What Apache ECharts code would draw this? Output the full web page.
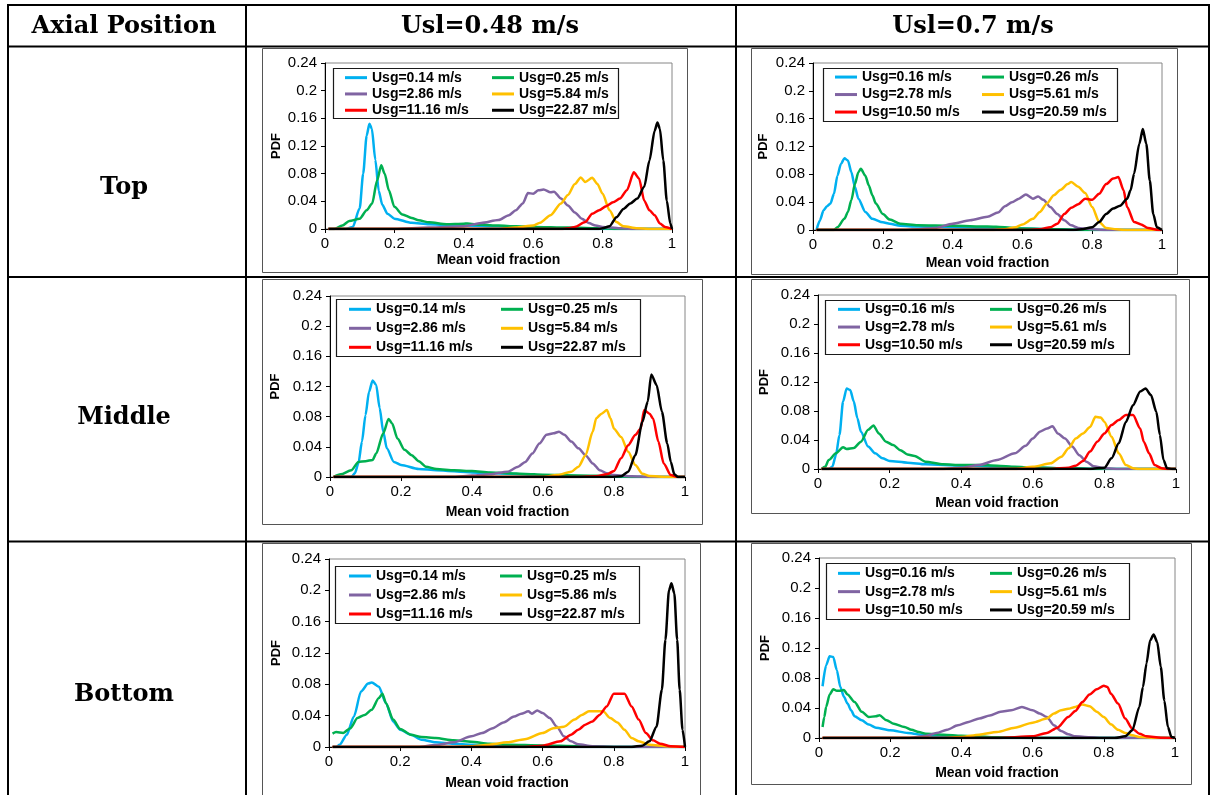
<!DOCTYPE html>
<html>
<head>
<meta charset="utf-8">
<script src="https://cdn.jsdelivr.net/npm/echarts@6/dist/echarts.min.js"></script>
<style>
  body { margin: 0; background: #fff; }
  #main { width: 1210px; height: 795px; }
</style>
</head>
<body>
<div id="main"></div>
<script>
// legend names
const namesLow = ["Usg=0.14 m/s", "Usg=0.25 m/s", "Usg=2.86 m/s", "Usg=5.84 m/s", "Usg=11.16 m/s", "Usg=22.87 m/s"];
const namesLowBottom = ["Usg=0.14 m/s", "Usg=0.25 m/s", "Usg=2.86 m/s", "Usg=5.86 m/s", "Usg=11.16 m/s", "Usg=22.87 m/s"];
const namesHigh = ["Usg=0.16 m/s", "Usg=0.26 m/s", "Usg=2.78 m/s", "Usg=5.61 m/s", "Usg=10.50 m/s", "Usg=20.59 m/s"];
const colors = ["#00b0f0", "#00b050", "#8064a2", "#ffc000", "#ff0000", "#000000"];

// Top, Usl=0.48
const tl014 = [[0.01,0],[0.06,0],[0.08,0.003],[0.1,0.03],[0.11,0.08],[0.12,0.135],[0.128,0.152],[0.135,0.145],[0.145,0.1],[0.155,0.055],[0.165,0.035],[0.18,0.022],[0.2,0.015],[0.25,0.009],[0.3,0.007],[0.4,0.005],[0.5,0.004],[0.6,0.002],[0.7,0.001],[0.8,0],[1,0]];
const tl025 = [[0.01,0],[0.026,0],[0.05,0.005],[0.07,0.0115],[0.1,0.015],[0.12,0.027],[0.136,0.037],[0.15,0.07],[0.162,0.092],[0.172,0.08],[0.184,0.056],[0.2,0.032],[0.223,0.021],[0.25,0.016],[0.27,0.0125],[0.3,0.0096],[0.35,0.007],[0.4,0.0077],[0.41,0.008],[0.45,0.006],[0.5,0.005],[0.55,0.004],[0.6,0.003],[0.7,0.002],[0.8,0.001],[0.85,0],[1,0]];
const tl286 = [[0.01,0],[0.2,0],[0.3,0.002],[0.4,0.004],[0.45,0.0087],[0.5,0.013],[0.53,0.02],[0.55,0.027],[0.57,0.037],[0.585,0.052],[0.6,0.051],[0.615,0.056],[0.63,0.057],[0.65,0.053],[0.66,0.054],[0.68,0.044],[0.7,0.034],[0.72,0.024],[0.74,0.015],[0.76,0.0087],[0.78,0.005],[0.8,0.003],[0.85,0.001],[0.9,0],[1,0]];
const tl584 = [[0.01,0],[0.5,0],[0.55,0.002],[0.6,0.005],[0.62,0.009],[0.65,0.02],[0.68,0.037],[0.7,0.049],[0.72,0.065],[0.737,0.0745],[0.75,0.068],[0.77,0.074],[0.785,0.065],[0.8,0.051],[0.82,0.027],[0.84,0.01],[0.86,0.004],[0.9,0.001],[0.95,0],[1,0]];
const tl1116 = [[0.01,0],[0.68,0],[0.7,0.001],[0.72,0.003],[0.75,0.01],[0.77,0.022],[0.79,0.027],[0.81,0.033],[0.83,0.0385],[0.85,0.044],[0.87,0.056],[0.89,0.082],[0.905,0.073],[0.92,0.041],[0.935,0.027],[0.95,0.02],[0.965,0.008],[0.98,0.003],[1,0]];
const tl2287 = [[0.01,0],[0.79,0],[0.8,0.001],[0.82,0.004],[0.84,0.017],[0.86,0.029],[0.88,0.037],[0.9,0.044],[0.92,0.061],[0.935,0.099],[0.95,0.142],[0.958,0.154],[0.965,0.145],[0.975,0.099],[0.985,0.041],[0.995,0.008],[1,0]];

// Top, Usl=0.7
const tr016 = [[0.01,0],[0.02,0.014],[0.03,0.028],[0.04,0.034],[0.05,0.038],[0.06,0.052],[0.07,0.078],[0.08,0.095],[0.09,0.103],[0.1,0.1],[0.11,0.083],[0.12,0.062],[0.13,0.045],[0.15,0.026],[0.17,0.016],[0.2,0.011],[0.22,0.009],[0.25,0.006],[0.3,0.005],[0.4,0.004],[0.5,0.003],[0.6,0.002],[0.7,0.001],[0.75,0],[1,0]];
const tr026 = [[0.01,0],[0.06,0],[0.07,0.004],[0.09,0.016],[0.1,0.026],[0.11,0.043],[0.12,0.066],[0.13,0.083],[0.137,0.088],[0.15,0.078],[0.16,0.064],[0.17,0.05],[0.18,0.038],[0.2,0.023],[0.22,0.015],[0.25,0.009],[0.3,0.0067],[0.4,0.006],[0.5,0.005],[0.55,0.004],[0.6,0.002],[0.7,0.001],[0.8,0],[1,0]];
const tr278 = [[0.01,0],[0.25,0],[0.3,0.001],[0.35,0.003],[0.4,0.009],[0.45,0.014],[0.5,0.019],[0.53,0.025],[0.55,0.034],[0.57,0.04],[0.59,0.045],[0.61,0.051],[0.63,0.045],[0.645,0.048],[0.66,0.0435],[0.68,0.033],[0.7,0.023],[0.72,0.014],[0.74,0.0067],[0.76,0.003],[0.8,0.001],[0.85,0],[1,0]];
const tr561 = [[0.01,0],[0.5,0],[0.55,0.001],[0.58,0.004],[0.6,0.008],[0.63,0.016],[0.65,0.026],[0.67,0.038],[0.69,0.05],[0.71,0.058],[0.73,0.066],[0.74,0.069],[0.76,0.062],[0.78,0.053],[0.8,0.033],[0.82,0.0115],[0.84,0.003],[0.87,0.001],[0.9,0],[1,0]];
const tr1050 = [[0.01,0],[0.6,0],[0.65,0.001],[0.68,0.004],[0.7,0.009],[0.72,0.023],[0.74,0.032],[0.76,0.037],[0.78,0.045],[0.8,0.0435],[0.82,0.052],[0.84,0.066],[0.86,0.074],[0.875,0.076],[0.89,0.057],[0.9,0.033],[0.92,0.0115],[0.94,0.008],[0.96,0.003],[0.99,0],[1,0]];
const tr2059 = [[0.01,0],[0.74,0],[0.77,0.001],[0.8,0.004],[0.82,0.0115],[0.84,0.023],[0.86,0.031],[0.88,0.035],[0.9,0.045],[0.91,0.057],[0.92,0.081],[0.935,0.124],[0.945,0.145],[0.955,0.124],[0.965,0.071],[0.975,0.023],[0.985,0.004],[1,0]];

// Middle, Usl=0.48
const ml014 = [[0.01,0],[0.06,0],[0.07,0.005],[0.08,0.018],[0.09,0.047],[0.1,0.082],[0.11,0.113],[0.12,0.128],[0.13,0.122],[0.14,0.091],[0.15,0.06],[0.16,0.038],[0.18,0.02],[0.2,0.016],[0.25,0.0106],[0.3,0.009],[0.4,0.006],[0.5,0.0044],[0.6,0.002],[0.7,0.001],[0.8,0],[1,0]];
const ml025 = [[0.01,0],[0.03,0.0035],[0.06,0.009],[0.08,0.02],[0.1,0.021],[0.12,0.0225],[0.13,0.031],[0.15,0.058],[0.165,0.077],[0.175,0.071],[0.19,0.051],[0.21,0.036],[0.23,0.029],[0.25,0.021],[0.27,0.0137],[0.3,0.0106],[0.35,0.0088],[0.4,0.008],[0.45,0.006],[0.5,0.005],[0.55,0.004],[0.6,0.003],[0.7,0.002],[0.8,0.001],[0.85,0],[1,0]];
const ml286 = [[0.01,0],[0.35,0],[0.4,0.002],[0.45,0.0035],[0.5,0.007],[0.53,0.0137],[0.55,0.02],[0.57,0.031],[0.59,0.0445],[0.61,0.056],[0.63,0.058],[0.645,0.06],[0.66,0.056],[0.68,0.047],[0.7,0.038],[0.72,0.029],[0.74,0.018],[0.76,0.009],[0.78,0.005],[0.8,0.0026],[0.85,0.001],[0.9,0],[1,0]];
const ml584 = [[0.01,0],[0.6,0],[0.64,0.0026],[0.68,0.007],[0.7,0.0137],[0.72,0.029],[0.74,0.06],[0.75,0.078],[0.765,0.084],[0.78,0.0887],[0.79,0.078],[0.8,0.064],[0.82,0.053],[0.84,0.0335],[0.86,0.016],[0.88,0.0044],[0.9,0.0013],[0.95,0],[1,0]];
const ml1116 = [[0.01,0],[0.7,0],[0.75,0.001],[0.78,0.0035],[0.8,0.008],[0.82,0.025],[0.84,0.042],[0.86,0.0556],[0.875,0.064],[0.885,0.0887],[0.9,0.084],[0.91,0.0776],[0.925,0.047],[0.94,0.018],[0.96,0.0026],[0.98,0],[1,0]];
const ml2287 = [[0.01,0],[0.79,0],[0.82,0.001],[0.84,0.007],[0.86,0.029],[0.88,0.073],[0.895,0.1],[0.905,0.136],[0.92,0.122],[0.935,0.0865],[0.95,0.0445],[0.96,0.02],[0.97,0.0035],[0.98,0],[1,0]];

// Middle, Usl=0.7
const mr016 = [[0.01,0],[0.03,0],[0.04,0.003],[0.05,0.019],[0.06,0.047],[0.07,0.093],[0.08,0.111],[0.09,0.109],[0.1,0.093],[0.11,0.07],[0.12,0.0515],[0.14,0.031],[0.16,0.0216],[0.18,0.0147],[0.2,0.011],[0.25,0.0087],[0.3,0.0064],[0.4,0.0046],[0.5,0.003],[0.6,0.002],[0.7,0.001],[0.8,0],[1,0]];
const mr026 = [[0.01,0],[0.02,0.003],[0.03,0.0124],[0.05,0.0216],[0.07,0.03],[0.08,0.0276],[0.1,0.029],[0.12,0.0377],[0.14,0.054],[0.155,0.06],[0.17,0.049],[0.19,0.0377],[0.21,0.033],[0.23,0.026],[0.25,0.02],[0.27,0.018],[0.3,0.01],[0.35,0.0064],[0.4,0.0055],[0.45,0.0055],[0.5,0.0046],[0.55,0.003],[0.6,0.002],[0.7,0.001],[0.8,0],[1,0]];
const mr278 = [[0.01,0],[0.35,0],[0.4,0.0018],[0.45,0.0055],[0.5,0.0124],[0.55,0.0216],[0.58,0.032],[0.6,0.042],[0.62,0.0515],[0.64,0.056],[0.655,0.059],[0.67,0.049],[0.69,0.042],[0.71,0.031],[0.73,0.019],[0.75,0.01],[0.77,0.0037],[0.8,0.001],[0.85,0],[1,0]];
const mr561 = [[0.01,0],[0.55,0],[0.6,0.003],[0.65,0.0078],[0.68,0.017],[0.7,0.0285],[0.72,0.042],[0.74,0.049],[0.76,0.058],[0.775,0.072],[0.79,0.071],[0.8,0.065],[0.82,0.0446],[0.84,0.0216],[0.86,0.0055],[0.88,0.001],[0.9,0],[1,0]];
const mr1050 = [[0.01,0],[0.65,0],[0.7,0.0018],[0.72,0.0046],[0.74,0.011],[0.76,0.024],[0.78,0.0377],[0.8,0.049],[0.82,0.0607],[0.84,0.0676],[0.86,0.0745],[0.88,0.0745],[0.9,0.056],[0.91,0.0377],[0.925,0.0216],[0.94,0.0055],[0.96,0.001],[0.98,0],[1,0]];
const mr2059 = [[0.01,0],[0.76,0],[0.8,0.0018],[0.82,0.0147],[0.84,0.0354],[0.86,0.065],[0.88,0.088],[0.9,0.107],[0.915,0.111],[0.93,0.102],[0.945,0.079],[0.955,0.047],[0.965,0.0124],[0.975,0.001],[0.99,0],[1,0]];

// Bottom, Usl=0.48
const bl014 = [[0.01,0],[0.02,0],[0.03,0.003],[0.05,0.0157],[0.07,0.039],[0.09,0.071],[0.11,0.081],[0.12,0.0824],[0.14,0.077],[0.16,0.056],[0.18,0.0327],[0.2,0.022],[0.23,0.0157],[0.26,0.0093],[0.3,0.006],[0.35,0.0042],[0.4,0.003],[0.5,0.002],[0.6,0.001],[0.7,0],[1,0]];
const bl025 = [[0.01,0.017],[0.02,0.019],[0.04,0.018],[0.06,0.024],[0.08,0.037],[0.1,0.041],[0.12,0.0476],[0.14,0.0625],[0.15,0.068],[0.16,0.056],[0.18,0.035],[0.2,0.023],[0.23,0.0157],[0.26,0.0127],[0.3,0.0115],[0.35,0.0085],[0.4,0.0068],[0.45,0.0042],[0.5,0.003],[0.6,0.002],[0.7,0.001],[0.8,0],[1,0]];
const bl286 = [[0.01,0],[0.25,0],[0.3,0.0025],[0.35,0.006],[0.4,0.0136],[0.43,0.0178],[0.46,0.024],[0.49,0.0314],[0.52,0.039],[0.54,0.0425],[0.56,0.0455],[0.57,0.0425],[0.585,0.0467],[0.6,0.0433],[0.62,0.037],[0.64,0.026],[0.66,0.0136],[0.68,0.0072],[0.7,0.0034],[0.74,0.001],[0.8,0],[1,0]];
const bl586 = [[0.01,0],[0.35,0],[0.4,0.001],[0.45,0.003],[0.5,0.006],[0.55,0.01],[0.6,0.0178],[0.63,0.024],[0.66,0.026],[0.69,0.035],[0.71,0.041],[0.73,0.0455],[0.75,0.0455],[0.77,0.0455],[0.79,0.037],[0.81,0.0314],[0.83,0.022],[0.85,0.0115],[0.87,0.0072],[0.9,0.003],[0.95,0.001],[1,0]];
const bl1116 = [[0.01,0],[0.55,0],[0.6,0.0017],[0.65,0.0072],[0.68,0.0157],[0.7,0.022],[0.72,0.0285],[0.74,0.0327],[0.76,0.041],[0.78,0.0518],[0.8,0.068],[0.815,0.068],[0.83,0.068],[0.85,0.0518],[0.87,0.035],[0.89,0.0178],[0.91,0.0085],[0.93,0.0042],[0.96,0.001],[1,0]];
const bl2287 = [[0.01,0],[0.85,0],[0.88,0.0017],[0.9,0.0072],[0.92,0.026],[0.935,0.073],[0.945,0.137],[0.955,0.2],[0.962,0.209],[0.97,0.196],[0.978,0.137],[0.985,0.073],[0.993,0.022],[1,0]];

// Bottom, Usl=0.7
const br016 = [[0.01,0.069],[0.02,0.097],[0.03,0.109],[0.04,0.108],[0.05,0.0905],[0.06,0.068],[0.07,0.055],[0.08,0.046],[0.09,0.037],[0.1,0.029],[0.12,0.0236],[0.14,0.018],[0.16,0.0138],[0.2,0.0103],[0.25,0.0067],[0.3,0.0036],[0.35,0.002],[0.4,0.001],[0.5,0],[1,0]];
const br026 = [[0.01,0.0147],[0.015,0.028],[0.02,0.0415],[0.03,0.058],[0.04,0.065],[0.05,0.063],[0.06,0.063],[0.07,0.064],[0.08,0.058],[0.1,0.048],[0.12,0.035],[0.14,0.028],[0.16,0.029],[0.17,0.0303],[0.19,0.0236],[0.21,0.019],[0.24,0.0147],[0.26,0.011],[0.28,0.008],[0.3,0.0058],[0.35,0.0045],[0.4,0.003],[0.45,0.002],[0.5,0.001],[0.6,0],[1,0]];
const br278 = [[0.01,0],[0.25,0],[0.3,0.0027],[0.33,0.0067],[0.36,0.011],[0.39,0.017],[0.42,0.0214],[0.45,0.026],[0.48,0.03],[0.51,0.035],[0.54,0.037],[0.57,0.0415],[0.6,0.037],[0.62,0.0326],[0.64,0.028],[0.66,0.017],[0.68,0.0094],[0.7,0.0049],[0.72,0.0022],[0.76,0.001],[0.8,0],[1,0]];
const br561 = [[0.01,0],[0.35,0],[0.4,0.0013],[0.45,0.0045],[0.5,0.008],[0.55,0.0138],[0.6,0.0205],[0.64,0.026],[0.66,0.0326],[0.68,0.037],[0.7,0.039],[0.72,0.0415],[0.74,0.0446],[0.76,0.0424],[0.78,0.035],[0.8,0.028],[0.82,0.0183],[0.84,0.011],[0.86,0.0067],[0.88,0.0036],[0.9,0.0013],[0.95,0],[1,0]];
const br1050 = [[0.01,0],[0.5,0],[0.6,0.0022],[0.64,0.0067],[0.67,0.0138],[0.7,0.028],[0.72,0.036],[0.74,0.048],[0.76,0.058],[0.78,0.065],[0.8,0.0696],[0.81,0.068],[0.82,0.059],[0.84,0.046],[0.86,0.026],[0.88,0.0125],[0.9,0.0058],[0.92,0.0022],[0.96,0.0005],[1,0]];
const br2059 = [[0.01,0],[0.83,0],[0.86,0.0022],[0.88,0.0103],[0.9,0.0415],[0.91,0.068],[0.92,0.0995],[0.93,0.13],[0.94,0.138],[0.95,0.128],[0.96,0.095],[0.97,0.05],[0.98,0.0147],[0.99,0.0013],[1,0]];

// panel layout (pixels)
const panels = [
  { grid: [325, 63, 347, 166], box: [262, 48, 425, 224], legBox: [333, 68, 285, 50], legL: 345, legR: 492, legTop: 69.5, rowH: 16.3, xGap: 24, yGap: 42, names: namesLow, data: [tl014, tl025, tl286, tl584, tl1116, tl2287] },
  { grid: [813, 63, 349, 167], box: [751, 48, 426, 226], legBox: [823, 68, 294, 53], legL: 835, legR: 982, legTop: 68.3, rowH: 17.5, xGap: 26, yGap: 43, names: namesHigh, data: [tr016, tr026, tr278, tr561, tr1050, tr2059] },
  { grid: [330, 296, 355, 181], box: [262, 279, 440, 245], legBox: [336, 299, 304, 57], legL: 349, legR: 501, legTop: 299.8, rowH: 19, xGap: 28, yGap: 48, names: namesLow, data: [ml014, ml025, ml286, ml584, ml1116, ml2287] },
  { grid: [818, 295, 358, 174], box: [751, 279, 438, 234], legBox: [825, 300, 304, 54], legL: 838, legR: 990, legTop: 300.5, rowH: 17.7, xGap: 27, yGap: 47, names: namesHigh, data: [mr016, mr026, mr278, mr561, mr1050, mr2059] },
  { grid: [329, 559, 356, 188], box: [262, 543, 438, 260], legBox: [335, 566, 304, 57], legL: 349, legR: 500, legTop: 566.5, rowH: 19, xGap: 29, yGap: 46, names: namesLowBottom, data: [bl014, bl025, bl286, bl586, bl1116, bl2287] },
  { grid: [819, 558, 356, 180], box: [751, 543, 440, 241], legBox: [826, 563, 303, 56], legL: 838, legR: 990, legTop: 564.2, rowH: 18.3, xGap: 28, yGap: 47, names: namesHigh, data: [br016, br026, br278, br561, br1050, br2059] }
];

const font = "Liberation Sans";
const grids = [], xAxes = [], yAxes = [], series = [], legends = [], graphics = [];

panels.forEach((p, i) => {
  grids.push({ left: p.grid[0], top: p.grid[1], width: p.grid[2], height: p.grid[3], show: true, borderColor: "#868686", borderWidth: 1, backgroundColor: "transparent" });
  xAxes.push({
    type: "value", gridIndex: i, min: 0, max: 1, interval: 0.2,
    name: "Mean void fraction", nameLocation: "middle", nameGap: p.xGap,
    nameTextStyle: { fontFamily: font, fontWeight: "bold", fontSize: 14, color: "#000" },
    axisLine: { onZero: false, lineStyle: { color: "#000", width: 1 } },
    axisTick: { show: true, length: 4, lineStyle: { color: "#000" } },
    axisLabel: { fontFamily: font, fontSize: 15, color: "#000", margin: 7 },
    splitLine: { show: false }
  });
  yAxes.push({
    type: "value", gridIndex: i, min: 0, max: 0.24, interval: 0.04,
    name: "PDF", nameLocation: "middle", nameGap: p.yGap,
    nameTextStyle: { fontFamily: font, fontWeight: "bold", fontSize: 13, color: "#000" },
    axisLine: { show: true, lineStyle: { color: "#000", width: 1 } },
    axisTick: { show: true, length: 4, lineStyle: { color: "#000" } },
    axisLabel: { fontFamily: font, fontSize: 15, color: "#000", margin: 8 },
    splitLine: { show: false }
  });
  p.data.forEach((d, k) => {
    series.push({
      name: p.names[k], type: "line", xAxisIndex: i, yAxisIndex: i,
      data: d, showSymbol: false, smooth: 0.25, smoothMonotone: "x",
      lineStyle: { color: colors[k], width: 2.5 }, itemStyle: { color: colors[k] },
      emphasis: { disabled: true }
    });
  });
  const legBase = {
    orient: "vertical", top: p.legTop, padding: 0, itemGap: 0,
    itemWidth: 22, itemHeight: 3, icon: "rect", selectedMode: false,
    textStyle: { fontFamily: font, fontWeight: "bold", fontSize: 14, color: "#000", lineHeight: p.rowH, height: p.rowH }
  };
  legends.push(Object.assign({}, legBase, { left: p.legL, data: [p.names[0], p.names[2], p.names[4]] }));
  legends.push(Object.assign({}, legBase, { left: p.legR, data: [p.names[1], p.names[3], p.names[5]] }));

  graphics.push({ type: "rect", shape: { x: p.box[0] + 0.5, y: p.box[1] + 0.5, width: p.box[2], height: p.box[3] }, style: { fill: "none", stroke: "#555", lineWidth: 1 }, silent: true });
  graphics.push({ type: "rect", shape: { x: p.legBox[0] + 0.5, y: p.legBox[1] + 0.5, width: p.legBox[2], height: p.legBox[3] }, style: { fill: "none", stroke: "#1a1a1a", lineWidth: 1.2 }, silent: true });
});

// table rules
const hLines = [5, 46.5, 277, 541.5];
const vLines = [8, 246, 736, 1209];
hLines.forEach(y => graphics.push({ type: "line", shape: { x1: 7, y1: y, x2: 1210, y2: y }, style: { stroke: "#000", lineWidth: 2 }, silent: true }));
vLines.forEach(x => graphics.push({ type: "line", shape: { x1: x, y1: 4, x2: x, y2: 795 }, style: { stroke: "#000", lineWidth: 2 }, silent: true }));

// table text
const cellTexts = [
  ["Axial Position", 124, 27], ["Usl=0.48 m/s", 490, 27], ["Usl=0.7 m/s", 973, 27],
  ["Top", 124, 188], ["Middle", 124, 418], ["Bottom", 124, 695]
];
cellTexts.forEach(t => graphics.push({
  type: "text", x: t[1], y: t[2], silent: true,
  style: { text: t[0], font: 'bold 24px "DejaVu Serif"', fill: "#000", align: "center", verticalAlign: "middle" }
}));

const chart = echarts.init(document.getElementById("main"));
chart.setOption({
  animation: false,
  backgroundColor: "#fff",
  grid: grids,
  xAxis: xAxes,
  yAxis: yAxes,
  legend: legends,
  series: series,
  graphic: graphics
});
</script>
</body>
</html>
